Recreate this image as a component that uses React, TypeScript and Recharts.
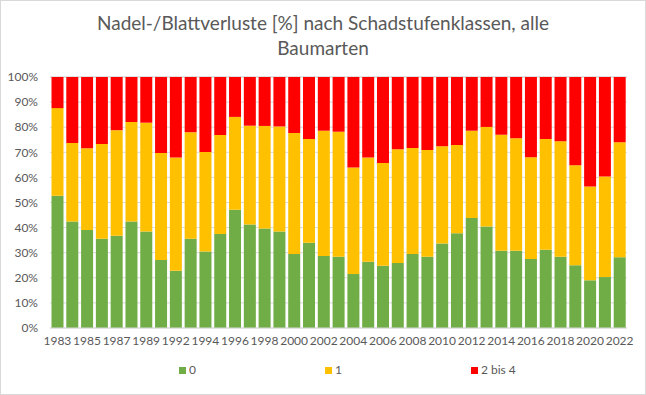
import React from 'react';
import { BarChart, Bar, XAxis, YAxis, CartesianGrid } from 'recharts';

// Schadstufen shares per survey year (percent, each year sums to 100)
const years = [
    '1983', '1984', '1985', '1986', '1987', '1988', '1989', '1991', '1992', '1993',
    '1994', '1995', '1996', '1997', '1998', '1999', '2000', '2001', '2002', '2003',
    '2004', '2005', '2006', '2007', '2008', '2009', '2010', '2011', '2012', '2013',
    '2014', '2015', '2016', '2017', '2018', '2019', '2020', '2021', '2022',
];

const stufe0 = [
    52.7, 42.4, 39.0, 35.6, 36.8, 42.4, 38.4, 27.1, 22.8, 35.6,
    30.5, 37.5, 47.1, 41.2, 39.6, 38.4, 29.5, 34.0, 28.7, 28.4,
    21.5, 26.4, 24.8, 25.9, 29.5, 28.4, 33.7, 37.7, 43.8, 40.4,
    30.8, 30.8, 27.5, 31.2, 28.4, 25.0, 19.0, 20.3, 28.2,
];

const stufe1 = [
    34.9, 31.3, 32.6, 37.7, 42.0, 39.7, 43.4, 42.6, 45.1, 42.4,
    39.6, 39.4, 37.0, 39.4, 40.9, 41.9, 48.2, 41.3, 49.9, 49.8,
    42.4, 41.5, 40.9, 45.3, 42.2, 42.5, 38.7, 35.2, 34.8, 39.7,
    46.2, 44.8, 40.5, 44.1, 46.0, 39.8, 37.4, 40.1, 45.8,
];

const stufe2bis4 = [
    12.4, 26.3, 28.4, 26.7, 21.2, 17.9, 18.2, 30.3, 32.1, 22.0,
    29.9, 23.1, 15.9, 19.4, 19.5, 19.7, 22.3, 24.7, 21.4, 21.8,
    36.1, 32.1, 34.3, 28.8, 28.3, 29.1, 27.6, 27.1, 21.4, 19.9,
    23.0, 24.4, 32.0, 24.7, 25.6, 35.2, 43.6, 39.6, 26.0,
];

const yTicks = [0, 10, 20, 30, 40, 50, 60, 70, 80, 90, 100];

const series = [
    { key: 's0', name: '0', color: '#70ad47' },
    { key: 's1', name: '1', color: '#ffc000' },
    { key: 's2', name: '2 bis 4', color: '#ff0000' },
];

const data = years.map((year, i) => ({
    year,
    s0: stufe0[i],
    s1: stufe1[i],
    s2: stufe2bis4[i],
}));

const FONT = 'Lato, "Open Sans", sans-serif';
const GREY = '#595959';

export default function App() {
    return (
        <div
            style={{
                position: 'absolute',
                top: 0,
                left: 0,
                width: 646,
                height: 395,
                background: '#ffffff',
                boxShadow: 'inset 0 0 0 1px #d9d9d9',
                fontFamily: FONT,
            }}
        >
            <div
                style={{
                    position: 'absolute',
                    top: 10,
                    left: 0,
                    width: 646,
                    textAlign: 'center',
                    fontSize: 19,
                    lineHeight: '25px',
                    color: GREY,
                }}
            >
                Nadel-/Blattverluste [%] nach Schadstufenklassen, alle
                <br />
                Baumarten
            </div>

            <div style={{ position: 'absolute', top: 0, left: 0 }}>
                <BarChart
                    width={646}
                    height={395}
                    data={data}
                    margin={{ top: 77, right: 19, bottom: 39, left: 0 }}
                    barCategoryGap={1.5}
                >
                    <CartesianGrid vertical={false} stroke="#d9d9d9" />
                    <XAxis
                        dataKey="year"
                        interval={1}
                        height={28}
                        tickLine={false}
                        axisLine={{ stroke: '#d9d9d9' }}
                        tick={{ fill: GREY, fontSize: 12, fontFamily: FONT }}
                    />
                    <YAxis
                        width={50}
                        domain={[0, 100]}
                        ticks={yTicks}
                        tickFormatter={(v: number) => `${v}%`}
                        axisLine={false}
                        tickLine={false}
                        tickMargin={6}
                        tick={{ fill: GREY, fontSize: 12, fontFamily: FONT }}
                    />
                    {series.map((s) => (
                        <Bar
                            key={s.key}
                            dataKey={s.key}
                            name={s.name}
                            stackId="a"
                            fill={s.color}
                            isAnimationActive={false}
                        />
                    ))}
                </BarChart>
            </div>

            <div
                style={{
                    position: 'absolute',
                    top: 362,
                    left: 179,
                    display: 'flex',
                    gap: 129,
                    fontSize: 12,
                    color: GREY,
                    lineHeight: '16px',
                }}
            >
                {series.map((s) => (
                    <div key={s.key} style={{ display: 'flex', alignItems: 'center' }}>
                        <span
                            style={{
                                display: 'inline-block',
                                width: 7,
                                height: 7,
                                background: s.color,
                                marginRight: 3,
                            }}
                        />
                        {s.name}
                    </div>
                ))}
            </div>
        </div>
    );
}
